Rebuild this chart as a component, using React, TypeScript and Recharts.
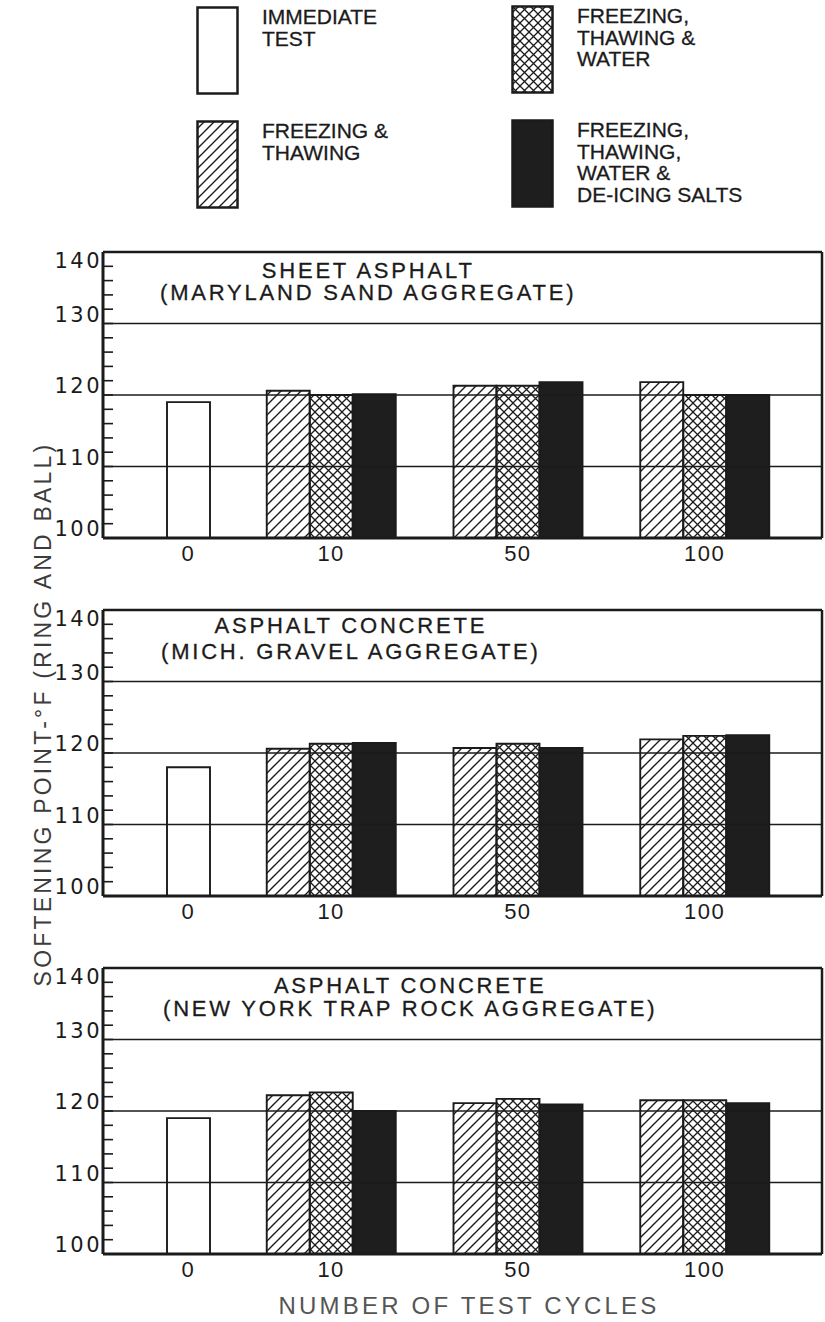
import React from 'react';
import { BarChart, Bar, XAxis, YAxis, ReferenceLine } from 'recharts';

// test cycles on the x axis
const CYCLES = ['0', '10', '50', '100'];

const SERIES_KEYS = ['immediate', 'freezeThaw', 'freezeThawWater', 'freezeThawSalt'];
const SERIES_NAMES = [
  ['IMMEDIATE', 'TEST'],
  ['FREEZING &', 'THAWING'],
  ['FREEZING,', 'THAWING &', 'WATER'],
  ['FREEZING,', 'THAWING,', 'WATER &', 'DE-ICING SALTS'],
];

const PANEL_TITLES = [
  ['SHEET ASPHALT', '(MARYLAND SAND AGGREGATE)'],
  ['ASPHALT CONCRETE', '(MICH. GRAVEL AGGREGATE)'],
  ['ASPHALT CONCRETE', '(NEW YORK TRAP ROCK AGGREGATE)'],
];

// softening point (°F) at 0 cycles, one value per panel
const IMMEDIATE = [119.0, 118.0, 119.0];
// values at 10, 50 and 100 cycles, one row per panel
const FREEZE_THAW = [
  [120.6, 121.3, 121.8],
  [120.6, 120.7, 121.9],
  [122.2, 121.1, 121.5],
];
const FREEZE_THAW_WATER = [
  [120.0, 121.3, 120.0],
  [121.3, 121.3, 122.4],
  [122.6, 121.7, 121.5],
];
const FREEZE_THAW_SALT = [
  [120.1, 121.8, 120.0],
  [121.4, 120.7, 122.5],
  [120.0, 120.9, 121.1],
];

const Y_TICKS = [100, 102, 104, 106, 108, 110, 112, 114, 116, 118, 120, 122, 124, 126, 128, 130, 132, 134, 136, 138, 140];
const Y_LABELS = [100, 110, 120, 130, 140];
const GRID_LINES = [110, 120, 130];

const INK = '#1b1b1b';
const FILLS = ['#ffffff', 'url(#hatch)', 'url(#cross)', '#1e1e1e'];
const SANS = '"Liberation Sans", Arial, sans-serif';

const PLOT_TOPS = [251.5, 610, 967.5];
const PLOT_H = 286;
const MARGIN_TOP = 19;
const TITLE_POS = [
  { left: 160, top: 259.5, lh: 22.5 },
  { left: 161, top: 613, lh: 26 },
  { left: 163, top: 975, lh: 22.5 },
];
const LEGEND_POS = [
  { left: 196, top: 6 },
  { left: 196, top: 120 },
  { left: 511, top: 5 },
  { left: 511, top: 119 },
];

const buildRows = (p: number) =>
  CYCLES.map((cycle, i) => ({
    cycle,
    immediate: i === 0 ? IMMEDIATE[p] : null,
    freezeThaw: i === 0 ? null : FREEZE_THAW[p][i - 1],
    freezeThawWater: i === 0 ? null : FREEZE_THAW_WATER[p][i - 1],
    freezeThawSalt: i === 0 ? null : FREEZE_THAW_SALT[p][i - 1],
  }));

const SoftTick = (props: any) => {
  const { x, y, payload } = props;
  const v = payload.value;
  return (
    <g>
      <line x1={x} x2={x + 10} y1={y} y2={y} stroke={INK} strokeWidth={1.6} />
      {Y_LABELS.includes(v) && (
        <text
          x={x - 1}
          y={y + (v === 140 ? 9 : -9)}
          textAnchor="end"
          dominantBaseline="central"
          fill={INK}
          style={{ fontFamily: '"DejaVu Sans", sans-serif', fontSize: 21, letterSpacing: 2.5 }}
        >
          {v}
        </text>
      )}
    </g>
  );
};

const cycleTick = (show: (i: number) => boolean, dy: number) => (props: any) => {
  const { x, y, payload } = props;
  const idx = props.index ?? payload.index;
  if (!show(idx)) return <g />;
  return (
    <text
      x={x}
      y={y + dy}
      textAnchor="middle"
      dominantBaseline="central"
      fill={INK}
      style={{ fontFamily: SANS, fontSize: 22, letterSpacing: 1.5 }}
    >
      {payload.value}
    </text>
  );
};

const Panel = ({ index }: { index: number }) => {
  const rows = buildRows(index);
  const t = TITLE_POS[index];
  return (
    <>
      <div style={{ position: 'absolute', left: 0, top: PLOT_TOPS[index] - MARGIN_TOP - 1 }}>
        <BarChart
          width={825}
          height={340}
          data={rows}
          margin={{ top: MARGIN_TOP, right: 0, bottom: 0, left: 0 }}
          barGap={0}
        >
          <XAxis
            xAxisId="imm"
            dataKey="cycle"
            orientation="top"
            height={1}
            padding={{ left: -8, right: -20 }}
            axisLine={false}
            tickLine={false}
            tickSize={0}
            tickMargin={0}
            interval={0}
            tick={cycleTick((i) => i === 0, PLOT_H + 15.5)}
          />
          <XAxis
            xAxisId="grp"
            dataKey="cycle"
            height={34}
            padding={{ left: -52, right: 24 }}
            axisLine={{ stroke: INK, strokeWidth: 3 }}
            tickLine={false}
            tickSize={0}
            tickMargin={0}
            interval={0}
            tick={cycleTick((i) => i !== 0, 15.5)}
          />
          <YAxis
            yAxisId="v"
            domain={[100, 140]}
            ticks={Y_TICKS}
            interval={0}
            width={103}
            allowDataOverflow
            tickSize={0}
            tickMargin={0}
            tickLine={false}
            axisLine={{ stroke: INK, strokeWidth: 3 }}
            tick={<SoftTick />}
          />
          <YAxis
            yAxisId="edge"
            orientation="right"
            width={3}
            domain={[100, 140]}
            tick={false}
            tickLine={false}
            axisLine={{ stroke: INK, strokeWidth: 2.5 }}
          />
          {SERIES_KEYS.map((key, i) => (
            <Bar
              key={key}
              xAxisId={i === 0 ? 'imm' : 'grp'}
              yAxisId="v"
              dataKey={key}
              barSize={43}
              fill={FILLS[i]}
              stroke={INK}
              strokeWidth={1.9}
              isAnimationActive={false}
            />
          ))}
          {GRID_LINES.map((v) => (
            <ReferenceLine key={v} xAxisId="grp" yAxisId="v" y={v} stroke={INK} strokeWidth={1.6} />
          ))}
          <ReferenceLine xAxisId="grp" yAxisId="v" y={140} stroke={INK} strokeWidth={2.5} />
        </BarChart>
      </div>
      <div
        style={{
          position: 'absolute',
          left: t.left,
          top: t.top,
          textAlign: 'center',
          fontFamily: SANS,
          fontSize: 22,
          lineHeight: `${t.lh}px`,
          letterSpacing: 2.8,
          color: INK,
          whiteSpace: 'nowrap',
          WebkitTextStroke: '0.3px #1b1b1b',
        }}
      >
        {PANEL_TITLES[index].map((line) => (
          <div key={line}>{line}</div>
        ))}
      </div>
    </>
  );
};

const LegendBlock = () => (
  <>
    {SERIES_NAMES.map((lines, i) => (
      <div key={i} style={{ position: 'absolute', left: LEGEND_POS[i].left, top: LEGEND_POS[i].top }}>
        <svg width={44} height={90} style={{ position: 'absolute', left: 0, top: 0 }}>
          <rect x={1.5} y={1.5} width={40} height={86} fill={FILLS[i]} stroke={INK} strokeWidth={2.5} />
        </svg>
        <div
          style={{
            position: 'absolute',
            left: 66,
            top: 0,
            fontFamily: SANS,
            fontSize: 21,
            lineHeight: '21.5px',
            color: INK,
            whiteSpace: 'nowrap',
            WebkitTextStroke: '0.3px #1b1b1b',
          }}
        >
          {lines.map((l) => (
            <div key={l}>{l}</div>
          ))}
        </div>
      </div>
    ))}
  </>
);

export default function App() {
  return (
    <div style={{ position: 'absolute', left: 0, top: 0, width: 825, height: 1322, background: '#fff', overflow: 'hidden' }}>
      <svg width={0} height={0} style={{ position: 'absolute' }}>
        <defs>
          <pattern id="hatch" width={10} height={10} patternUnits="userSpaceOnUse">
            <path d="M0,10 L10,0 M-1,1 L1,-1 M9,11 L11,9" stroke={INK} strokeWidth={1.4} />
          </pattern>
          <pattern id="cross" width={9} height={9} patternUnits="userSpaceOnUse">
            <path d="M0,0 L9,9 M9,0 L0,9" stroke={INK} strokeWidth={1.3} />
          </pattern>
        </defs>
      </svg>
      <LegendBlock />
      {PANEL_TITLES.map((_, i) => (
        <Panel key={i} index={i} />
      ))}
      <div
        style={{
          position: 'absolute',
          left: 43,
          top: 714,
          transform: 'translate(-50%, -50%) rotate(-90deg)',
          whiteSpace: 'nowrap',
          fontFamily: SANS,
          fontSize: 23,
          letterSpacing: 3.2,
          color: '#3c3c3c',
        }}
      >
        SOFTENING POINT-°F (RING AND BALL)
      </div>
      <div
        style={{
          position: 'absolute',
          left: 469,
          top: 1306,
          transform: 'translate(-50%, -50%)',
          whiteSpace: 'nowrap',
          fontFamily: SANS,
          fontSize: 24,
          letterSpacing: 3.2,
          color: '#555',
        }}
      >
        NUMBER OF TEST CYCLES
      </div>
    </div>
  );
}
